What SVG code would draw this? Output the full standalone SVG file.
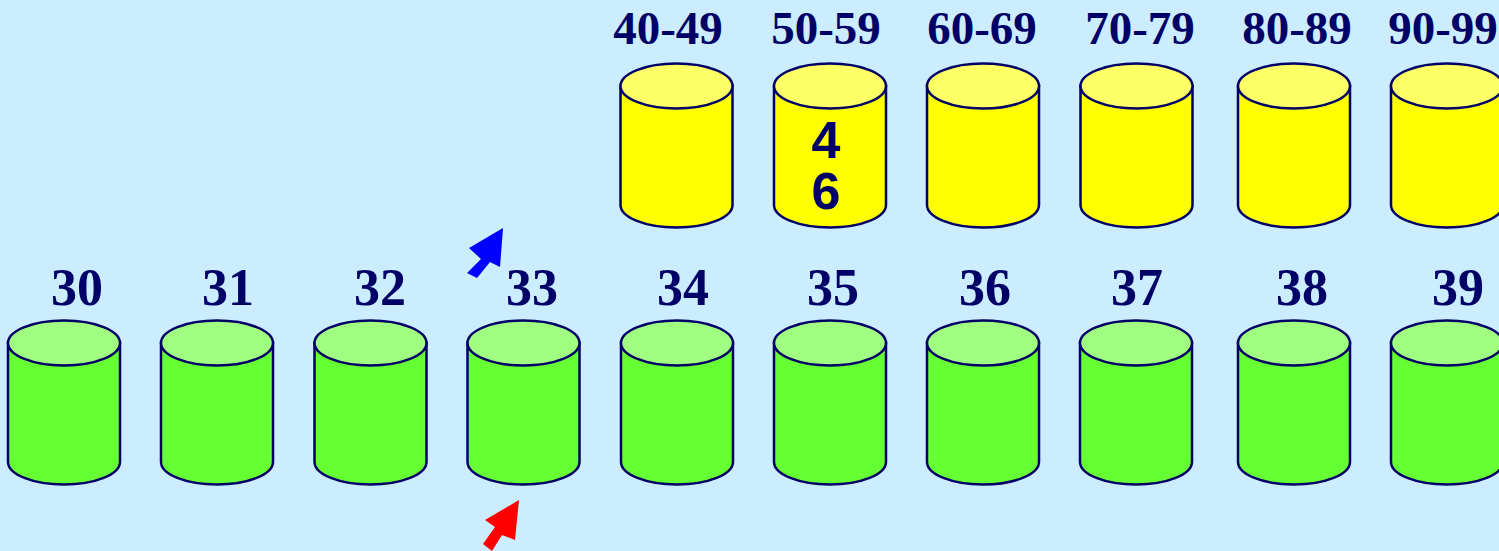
<svg xmlns="http://www.w3.org/2000/svg" xmlns:xlink="http://www.w3.org/1999/xlink" width="1499" height="551" viewBox="0 0 1499 551">
<style>
.bg{fill:#CCECFF}
.ln{stroke:#000066;stroke-width:2.5}
.ybody{fill:#FFFF00}
.ytop{fill:#FFFF66}
.gbody{fill:#66FF33}
.gtop{fill:#A0FF80}
.lbl{font-family:"Liberation Serif","Times New Roman",serif;font-weight:bold;fill:#000066;text-anchor:middle}
.ylbl{font-size:47px}
.glbl{font-size:52px}
.val{font-family:"Liberation Sans",Arial,sans-serif;font-weight:bold;font-size:52px;fill:#000066;text-anchor:middle}
</style>
<defs>
<path id="body" d="M-56,0 V119 A56,22.5 0 0 0 56,119 V0 Z"/>
<ellipse id="top" cx="0" cy="0" rx="56" ry="22.5"/>
</defs>
<rect class="bg" x="0" y="0" width="1499" height="551"/>

<g id="y40" transform="translate(676.5,86)"><use xlink:href="#body" class="ybody ln"/><use xlink:href="#top" class="ytop ln"/></g>
<g id="y50" transform="translate(830,86)"><use xlink:href="#body" class="ybody ln"/><use xlink:href="#top" class="ytop ln"/></g>
<g id="y60" transform="translate(983,86)"><use xlink:href="#body" class="ybody ln"/><use xlink:href="#top" class="ytop ln"/></g>
<g id="y70" transform="translate(1136.5,86)"><use xlink:href="#body" class="ybody ln"/><use xlink:href="#top" class="ytop ln"/></g>
<g id="y80" transform="translate(1294,86)"><use xlink:href="#body" class="ybody ln"/><use xlink:href="#top" class="ytop ln"/></g>
<g id="y90" transform="translate(1447,86)"><use xlink:href="#body" class="ybody ln"/><use xlink:href="#top" class="ytop ln"/></g>

<g id="ylabels">
<text class="lbl ylbl" x="668" y="44">40-49</text>
<text class="lbl ylbl" x="826" y="44">50-59</text>
<text class="lbl ylbl" x="982" y="44">60-69</text>
<text class="lbl ylbl" x="1140" y="44">70-79</text>
<text class="lbl ylbl" x="1297" y="44">80-89</text>
<text class="lbl ylbl" x="1443" y="44">90-99</text>
</g>
<g id="y50vals">
<text class="val"><tspan x="826" y="158">4</tspan><tspan x="826" y="209">6</tspan></text>
</g>

<g id="g30" transform="translate(64,343)"><use xlink:href="#body" class="gbody ln"/><use xlink:href="#top" class="gtop ln"/></g>
<g id="g31" transform="translate(217,343)"><use xlink:href="#body" class="gbody ln"/><use xlink:href="#top" class="gtop ln"/></g>
<g id="g32" transform="translate(370.5,343)"><use xlink:href="#body" class="gbody ln"/><use xlink:href="#top" class="gtop ln"/></g>
<g id="g33" transform="translate(523.5,343)"><use xlink:href="#body" class="gbody ln"/><use xlink:href="#top" class="gtop ln"/></g>
<g id="g34" transform="translate(677,343)"><use xlink:href="#body" class="gbody ln"/><use xlink:href="#top" class="gtop ln"/></g>
<g id="g35" transform="translate(830,343)"><use xlink:href="#body" class="gbody ln"/><use xlink:href="#top" class="gtop ln"/></g>
<g id="g36" transform="translate(983,343)"><use xlink:href="#body" class="gbody ln"/><use xlink:href="#top" class="gtop ln"/></g>
<g id="g37" transform="translate(1136,343)"><use xlink:href="#body" class="gbody ln"/><use xlink:href="#top" class="gtop ln"/></g>
<g id="g38" transform="translate(1294,343)"><use xlink:href="#body" class="gbody ln"/><use xlink:href="#top" class="gtop ln"/></g>
<g id="g39" transform="translate(1447,343)"><use xlink:href="#body" class="gbody ln"/><use xlink:href="#top" class="gtop ln"/></g>

<g id="glabels">
<text class="lbl glbl" x="77" y="305">30</text>
<text class="lbl glbl" x="228" y="305">31</text>
<text class="lbl glbl" x="380" y="305">32</text>
<text class="lbl glbl" x="532" y="305">33</text>
<text class="lbl glbl" x="683" y="305">34</text>
<text class="lbl glbl" x="833" y="305">35</text>
<text class="lbl glbl" x="985" y="305">36</text>
<text class="lbl glbl" x="1137" y="305">37</text>
<text class="lbl glbl" x="1302" y="305">38</text>
<text class="lbl glbl" x="1458" y="305">39</text>
</g>

<g id="connectors">
<polygon fill="#0000FF" points="503,228 500,267 490,262 477,278 467,273 481,259 469,248"/>
<polygon fill="#FF0000" points="519,500 515,540 502,535 492,551 483,544 495,527 485,520"/>
</g>
</svg>
